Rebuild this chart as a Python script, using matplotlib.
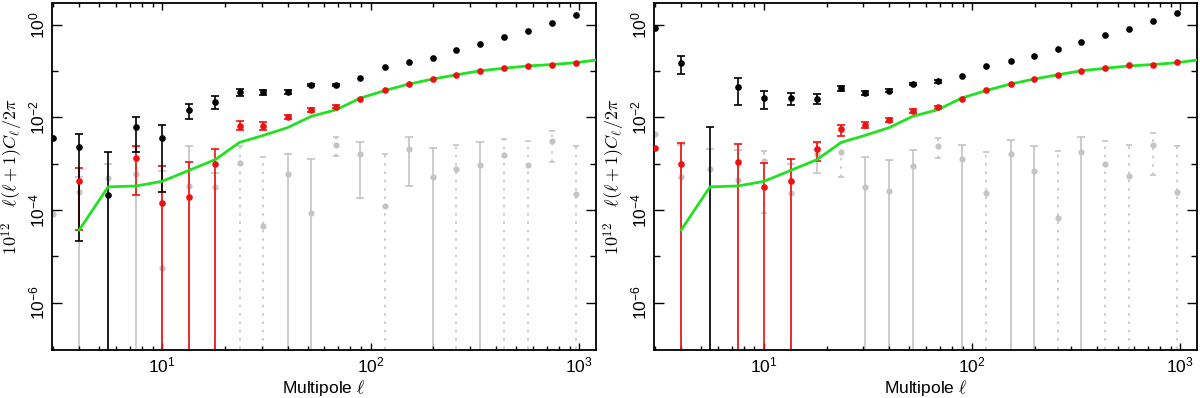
from matplotlib import pyplot as plt
from matplotlib import ticker
import numpy as np

plt.rcParams['font.family'] = ['Liberation Sans', 'DejaVu Sans']
plt.rcParams['mathtext.fontset'] = 'cm'

BLACK = '#000000'
RED = '#ee1111'
GRAY = '#c4c4c4'
GREEN = '#22e022'
nan = np.nan

# multipole bin centres
ell = [3, 4, 5.5, 7.5, 10, 13.5, 18, 23.5, 30.5, 40, 52, 68.5, 89, 117, 153,
       198, 258, 335, 436, 569, 739, 961]

# model curve, log10 of 10^12 l(l+1)C_l/2pi (same in both panels)
ell_model = [4, 5.5, 7.5, 10, 13.5, 18, 23.5, 30.5, 40, 52, 68.5, 89, 117,
             153, 198, 258, 335, 436, 569, 739, 961, 1250]
model = [-4.43, -3.50, -3.48, -3.38, -3.14, -2.91, -2.54, -2.39, -2.22, -1.975,
         -1.835, -1.585, -1.42, -1.28, -1.175, -1.08, -0.995, -0.94, -0.89,
         -0.86, -0.82, -0.755]

# ---- left panel (log10 values; -9 = bar runs off the bottom) ----
left_black = [-2.44, -2.645, -3.68, -2.215, -2.44, -1.835, -1.66, -1.454, -1.46,
              -1.45, -1.30, -1.30, -1.14, -0.917, -0.81, -0.71, -0.55, -0.41,
              -0.26, -0.13, 0.03, 0.21]
left_black_lo = [nan, -4.67, -9, -2.75, -3.61, -2.03, -1.83, -1.53, -1.52, -1.49,
                 -1.33, -1.33, nan, nan, nan, nan, nan, nan, nan, nan, nan, nan]
left_black_hi = [nan, -2.35, -2.74, -1.985, -2.16, -1.71, -1.54, -1.39, -1.41,
                 -1.41, -1.27, -1.27, nan, nan, nan, nan, nan, nan, nan, nan, nan, nan]

left_red = [nan, -3.38, nan, -2.88, -3.84, -3.71, -3.00, -2.18, -2.19, -1.99,
            -1.84, -1.77, -1.60, -1.405, -1.275, -1.175, -1.09, -0.995, -0.94,
            -0.89, -0.88, -0.83]
left_red_lo = [nan, -4.44, nan, -3.68, -9, -9, -9, -2.28, -2.27, -2.03, -1.88,
               -1.80, nan, nan, nan, nan, nan, nan, nan, nan, nan, nan]
left_red_hi = [nan, -3.10, nan, -2.62, -3.05, -2.97, -2.68, -2.08, -2.11, -1.95,
               -1.80, -1.74, nan, nan, nan, nan, nan, nan, nan, nan, nan, nan]

left_gray = [-4.08, -3.61, -3.30, -3.23, -5.26, -3.48, -3.50, -2.995, -4.34, -3.23,
             -4.06, -2.59, -2.80, -3.92, -2.69, -3.28, -3.12, -3.03, -2.82, -3.02,
             -2.51, -3.66]
left_gray_lo = [nan, -9, -9, -9, -9, -9, -9, -9, -9, -9, -9, -2.83, -3.73, -9,
                -3.48, -9, -9, -9, -9, -9, -2.96, -9]
left_gray_hi = [nan, -3.29, -3.00, -2.64, -3.16, -2.62, -3.20, -2.62, -2.86, -2.78,
                -2.89, -2.42, -2.53, -2.78, -2.43, -2.66, -2.60, -2.54, -2.46, -2.51,
                -2.29, -2.62]
left_gray_dotted = [0, 0, 0, 0, 0, 0, 0, 1, 1, 0, 0, 1, 0, 1, 0, 0, 1, 0, 1, 1, 1, 1]

# ---- right panel ----
right_black = [-0.064, -0.83, nan, -1.35, -1.59, -1.59, -1.60, -1.375, -1.475,
               -1.425, -1.28, -1.225, -1.10, -0.90, -0.79, -0.67, -0.515, -0.37,
               -0.22, -0.09, 0.07, 0.245]
right_black_lo = [nan, -1.07, -9, -1.73, -1.81, -1.73, -1.71, -1.43, -1.52, -1.46,
                  -1.31, -1.25, nan, nan, nan, nan, nan, nan, nan, nan, nan, nan]
right_black_hi = [nan, -0.67, -2.21, -1.16, -1.44, -1.48, -1.50, -1.32, -1.435,
                  -1.39, -1.25, -1.20, nan, nan, nan, nan, nan, nan, nan, nan, nan, nan]

right_red = [-2.66, -3.00, nan, -2.97, -3.50, -3.38, -2.68, -2.26, -2.17, -2.05,
             -1.86, -1.78, -1.61, -1.405, -1.27, -1.17, -1.08, -0.99, -0.925,
             -0.88, -0.87, -0.81]
right_red_lo = [nan, -9, nan, -9, -9, -9, -2.94, -2.41, -2.23, -2.09, -1.90, -1.81,
                nan, nan, nan, nan, nan, nan, nan, nan, nan, nan]
right_red_hi = [nan, -2.55, nan, -2.57, -2.98, -2.89, -2.53, -2.16, -2.11, -2.01,
                -1.83, -1.75, nan, nan, nan, nan, nan, nan, nan, nan, nan, nan]

right_gray = [-2.36, -3.29, -3.12, -3.35, -2.95, -3.64, -2.80, -2.75, -3.50, -3.58,
              -3.04, -2.62, -2.89, -3.64, -2.79, -3.16, -4.18, -2.74, -3.00, -3.26,
              -2.59, -3.61]
right_gray_lo = [nan, -9, -9, -9, -4.06, -9, -3.19, -3.29, -9, -9, -9, -2.87, -9,
                 -9, -9, -9, -9, -9, -9, -9, -3.24, -9]
right_gray_hi = [nan, -2.60, -2.69, -2.70, -2.73, -3.00, -2.55, -2.55, -2.85, -2.91,
                 -2.70, -2.44, -2.59, -2.75, -2.48, -2.62, -2.72, -2.43, -2.51, -2.59,
                 -2.34, -2.62]
right_gray_dotted = [0, 0, 0, 0, 1, 0, 0, 1, 0, 0, 0, 1, 0, 1, 0, 0, 1, 0, 1, 1, 1, 1]


def draw_bars(ax, x, lo, hi, color, dotted=None, zorder=2):
    x = np.asarray(x, dtype=float)
    lo = np.asarray(lo, dtype=float)
    hi = np.asarray(hi, dtype=float)
    dotted = np.zeros(len(x), bool) if dotted is None else np.asarray(dotted, bool)
    for style in (False, True):
        m = ~np.isnan(lo) & ~np.isnan(hi) & (dotted == style)
        if not m.any():
            continue
        low, high = 10.0 ** lo[m], 10.0 ** hi[m]
        mid = np.sqrt(low * high)
        cont = ax.errorbar(x[m], mid, yerr=[mid - low, high - mid], fmt='none',
                           ecolor=color, elinewidth=1.2, capsize=3 if not style else 2,
                           capthick=1.2, zorder=zorder)
        if style:
            for lc in cont.lines[2]:
                lc.set_linestyle((0, (1.5, 3.5)))


def draw_panel(ax, black, black_lo, black_hi, red, red_lo, red_hi,
               gray, gray_lo, gray_hi, gray_dotted):
    draw_bars(ax, ell, gray_lo, gray_hi, GRAY, gray_dotted, zorder=1)
    ax.plot(ell, np.power(10.0, gray), 'o', color=GRAY, ms=4.5, mec='none', zorder=1.5)
    draw_bars(ax, ell, red_lo, red_hi, RED, zorder=2)
    draw_bars(ax, ell, black_lo, black_hi, BLACK, zorder=2.5)
    ax.plot(ell_model, np.power(10.0, model), color=GREEN, lw=2.0, zorder=3)
    ax.plot(ell, np.power(10.0, red), 'o', color=RED, ms=4.8, mec='none', zorder=4)
    ax.plot(ell, np.power(10.0, black), 'o', color=BLACK, ms=4.8, mec='none', zorder=4)

    ax.set_xscale('log')
    ax.set_yscale('log')
    ax.set_xlim(2.96, 1205)
    ax.set_ylim(10 ** -7.02, 10 ** 0.468)

    ax.xaxis.set_major_locator(ticker.LogLocator(base=10, numticks=10))
    ax.xaxis.set_minor_locator(ticker.LogLocator(base=10, subs=np.arange(2, 10), numticks=20))
    ax.xaxis.set_minor_formatter(ticker.NullFormatter())
    ax.yaxis.set_major_locator(ticker.FixedLocator([1e0, 1e-2, 1e-4, 1e-6]))
    ax.yaxis.set_minor_locator(ticker.FixedLocator([1e-1, 1e-3, 1e-5]))
    ax.yaxis.set_minor_formatter(ticker.NullFormatter())

    ax.tick_params(which='both', direction='in', top=True, right=True,
                   labelsize=12.5, width=1.0, color='black')
    ax.tick_params(axis='x', which='major', length=5, pad=4)
    ax.tick_params(axis='x', which='minor', length=3)
    ax.tick_params(axis='y', which='major', length=7.5, pad=3, labelrotation=90)
    ax.tick_params(axis='y', which='minor', length=4.5)
    plt.setp(ax.get_yticklabels(), va='center')
    for sp in ax.spines.values():
        sp.set_linewidth(1.3)

    ax.set_xlabel(r'Multipole $\ell$', fontsize=12.5, labelpad=2)
    ax.set_ylabel(r'$10^{12}\quad\ell(\ell+1)C_\ell/2\pi$', fontsize=13)
    ax.yaxis.set_label_coords(-0.05, 0.5)


fig = plt.figure(figsize=(12, 3.98), dpi=100)
ax1 = fig.add_axes([52 / 1200, 48 / 398, 544 / 1200, 347 / 398])
ax2 = fig.add_axes([654 / 1200, 48 / 398, 543 / 1200, 347 / 398])

draw_panel(ax1, left_black, left_black_lo, left_black_hi,
           left_red, left_red_lo, left_red_hi,
           left_gray, left_gray_lo, left_gray_hi, left_gray_dotted)
draw_panel(ax2, right_black, right_black_lo, right_black_hi,
           right_red, right_red_lo, right_red_hi,
           right_gray, right_gray_lo, right_gray_hi, right_gray_dotted)

fig.savefig('out.png', dpi=100)
